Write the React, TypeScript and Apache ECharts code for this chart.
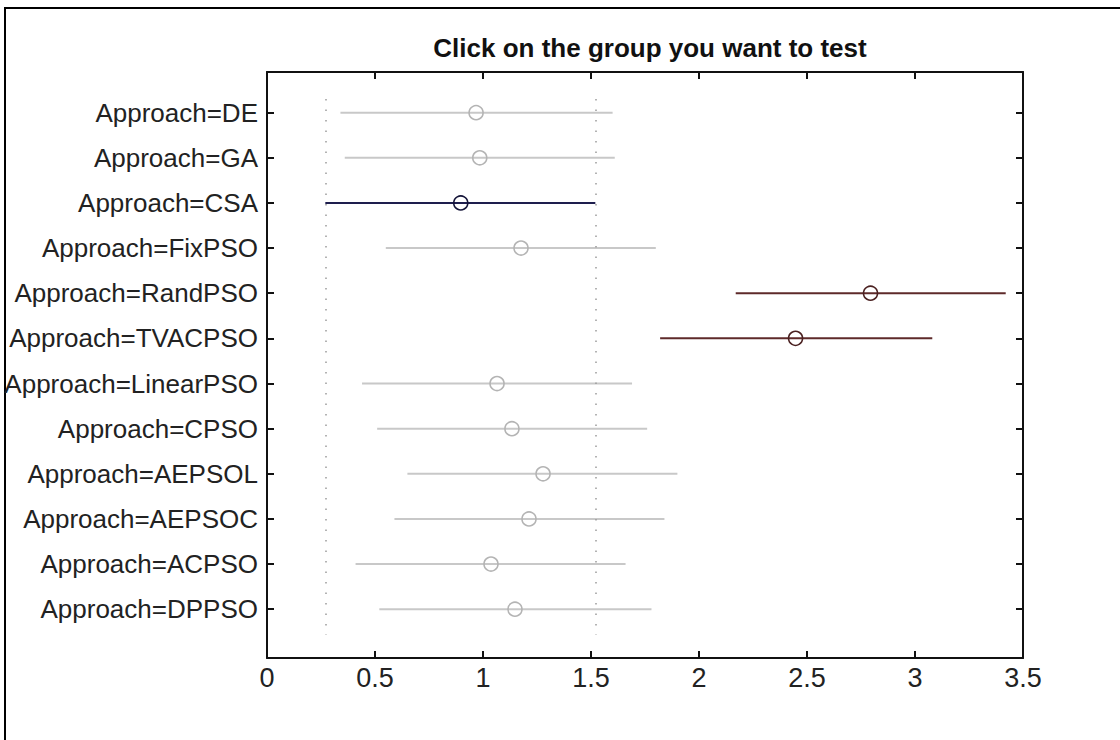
import React, { useEffect, useRef } from "react";
import * as echarts from "echarts";

const categories = [
  "Approach=DE",
  "Approach=GA",
  "Approach=CSA",
  "Approach=FixPSO",
  "Approach=RandPSO",
  "Approach=TVACPSO",
  "Approach=LinearPSO",
  "Approach=CPSO",
  "Approach=AEPSOL",
  "Approach=AEPSOC",
  "Approach=ACPSO",
  "Approach=DPPSO",
];
const means = [0.968, 0.985, 0.897, 1.176, 2.794, 2.447, 1.065, 1.134, 1.278, 1.213, 1.037, 1.148];
const lowers = [0.34, 0.36, 0.27, 0.55, 2.17, 1.82, 0.44, 0.51, 0.65, 0.59, 0.41, 0.52];
const uppers = [1.6, 1.61, 1.52, 1.8, 3.42, 3.08, 1.69, 1.76, 1.9, 1.84, 1.66, 1.78];
// 0 = not significant (gray), 1 = selected group (blue), 2 = significantly different (red)
const groupStatus = [0, 0, 1, 0, 2, 2, 0, 0, 0, 0, 0, 0];
const xTicks = [0, 0.5, 1, 1.5, 2, 2.5, 3, 3.5];
const title = "Click on the group you want to test";
const selectedBounds = [0.27, 1.52];

const lineColors = ["#c8c8c8", "#1e1e4e", "#5e2a2a"];
const markerColors = ["#b4b4b4", "#141438", "#4a2020"];

export default function App() {
  const ref = useRef<HTMLDivElement>(null);
  useEffect(() => {
    if (!ref.current) return;
    const chart = echarts.init(ref.current, null, { renderer: "svg" });
    const idx = categories.map((_, i) => i);
    const data = idx.map((i) => [i, lowers[i], means[i], uppers[i], groupStatus[i]]);
    const yMin = -0.9;
    const yMax = 12.08;
    const font = "Liberation Sans, Arial, sans-serif";
    const axisLine = { show: true, onZero: false, lineStyle: { color: "#111", width: 2 } };
    const tick = { show: true, inside: true, length: 7, lineStyle: { color: "#111", width: 2 } };
    chart.setOption({
      animation: false,
      backgroundColor: "#ffffff",
      title: {
        text: title,
        left: 645,
        textAlign: "center",
        top: 30,
        textStyle: { fontFamily: font, fontSize: 26, fontWeight: "bold", color: "#111" },
      },
      grid: { left: 267, right: 97, top: 72, bottom: 82, containLabel: false },
      xAxis: [
        {
          type: "value",
          min: 0,
          max: 3.5,
          interval: 0.5,
          position: "bottom",
          axisLine,
          axisTick: tick,
          axisLabel: {
            show: true,
            margin: 6,
            fontFamily: font,
            fontSize: 27,
            color: "#222",
            formatter: (v: number) => (xTicks.includes(v) ? String(v) : ""),
          },
          splitLine: { show: false },
        },
        {
          type: "value",
          min: 0,
          max: 3.5,
          interval: 0.5,
          position: "top",
          axisLine,
          axisTick: tick,
          axisLabel: { show: false },
          splitLine: { show: false },
        },
      ],
      yAxis: [
        {
          type: "value",
          min: yMin,
          max: yMax,
          inverse: true,
          position: "left",
          axisLine,
          axisTick: { ...tick, customValues: idx },
          axisLabel: {
            show: true,
            customValues: idx,
            margin: 9,
            fontFamily: font,
            fontSize: 26,
            color: "#222",
            formatter: (v: number) => categories[Math.round(v)] ?? "",
          },
          splitLine: { show: false },
        },
        {
          type: "value",
          min: yMin,
          max: yMax,
          inverse: true,
          position: "right",
          axisLine,
          axisTick: { ...tick, customValues: idx },
          axisLabel: { show: false },
          splitLine: { show: false },
        },
      ],
      graphic: [
        {
          type: "polyline",
          shape: { points: [[5, 760], [5, 8], [1130, 8]] },
          style: { stroke: "#000", lineWidth: 2, fill: null },
          silent: true,
        },
      ],
      series: [
        {
          type: "custom",
          xAxisIndex: 0,
          yAxisIndex: 0,
          data,
          renderItem: (params: any, api: any) => {
            const y = api.value(0);
            const lo = api.coord([api.value(1), y]);
            const m = api.coord([api.value(2), y]);
            const hi = api.coord([api.value(3), y]);
            const s = api.value(4);
            return {
              type: "group",
              children: [
                {
                  type: "line",
                  shape: { x1: lo[0], y1: lo[1], x2: hi[0], y2: hi[1] },
                  style: { stroke: lineColors[s], lineWidth: 2 },
                },
                {
                  type: "circle",
                  shape: { cx: m[0], cy: m[1], r: 7 },
                  style: { stroke: markerColors[s], lineWidth: 1.6, fill: "none" },
                },
              ],
            };
          },
          markLine: {
            silent: true,
            symbol: "none",
            label: { show: false },
            lineStyle: { color: "#9a9a9a", width: 1.5, type: [1.5, 9] },
            data: selectedBounds.map((b) => [
              { coord: [b, -0.3] },
              { coord: [b, 11.57] },
            ]),
          },
        },
      ],
    });
    return () => chart.dispose();
  }, []);
  return (
    <div
      ref={ref}
      style={{ position: "fixed", left: 0, top: 0, width: 1120, height: 740, background: "#fff" }}
    />
  );
}
